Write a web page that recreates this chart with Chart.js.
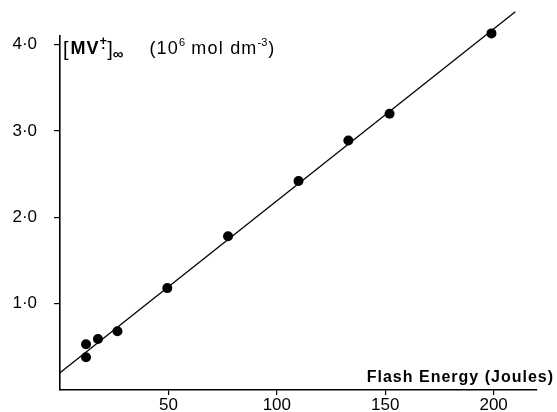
<!DOCTYPE html>
<html>
<head>
<meta charset="utf-8">
<script src="https://cdn.jsdelivr.net/npm/chart.js@4/dist/chart.umd.min.js"></script>
<style>
  html, body { margin: 0; padding: 0; background: #fff; }
  #wrap { width: 557px; height: 412px; }
  canvas { display: block; }
</style>
</head>
<body>
<div id="wrap"><canvas id="c" width="557" height="412"></canvas></div>
<script>
// ---- data ----
const flashEnergy = [12, 12, 17.5, 26.5, 49.5, 77.5, 110, 133, 152, 199];   // Joules
const mvConc      = [0.38, 0.53, 0.59, 0.68, 1.18, 1.78, 2.42, 2.89, 3.20, 4.13]; // 10^6 mol dm^-3
const fitEnergy   = [0, 210];
const fitConc     = [0.2, 4.38];
const xTickValues = [50, 100, 150, 200];
const yTickValues = [1, 2, 3, 4];
const xTitle = 'Flash Energy (Joules)';
const yTitleParts = ['[', 'MV', '+', ']', '∞', '(10', '6', ' mol dm', '-3', ')'];

const FONT = '"Liberation Sans", Arial, sans-serif';

const pointData = flashEnergy.map((x, i) => ({ x, y: mvConc[i] }));
const lineData = fitEnergy.map((x, i) => ({ x, y: fitConc[i] }));

const labelPlugin = {
  id: 'labels',
  afterDraw(chart) {
    const ctx = chart.ctx;
    ctx.save();
    ctx.fillStyle = '#000';
    ctx.textBaseline = 'alphabetic';
    ctx.textAlign = 'left';
    // y quantity label (top-left, inside plot)
    let x = 63;
    const base = 54;
    function put(text, size, weight, dy, ls) {
      ctx.font = weight + ' ' + size + 'px ' + FONT;
      ctx.letterSpacing = (ls || 0) + 'px';
      ctx.fillText(text, x, base + dy);
      const w = ctx.measureText(text).width;
      x += w;
      return w;
    }
    put(yTitleParts[0], 20, 'normal', 2, 0);
    x += 2;
    put(yTitleParts[1], 18, 'bold', 0, 1);
    const px = x;
    put(yTitleParts[2], 13, 'bold', -9, 0);
    ctx.font = 'bold 13px ' + FONT;
    ctx.letterSpacing = '0px';
    ctx.fillText('·', px + 2, base - 2);
    put(yTitleParts[3], 20, 'normal', 2, 0);
    put(yTitleParts[4], 15, 'bold', 5, 0);
    x += 26;
    put(yTitleParts[5], 18, 'normal', 0, 1.2);
    put(yTitleParts[6], 11, 'normal', -8, 0);
    put(yTitleParts[7], 18, 'normal', 0, 1.2);
    put(yTitleParts[8], 11, 'normal', -8, 0);
    x += 1;
    put(yTitleParts[9], 18, 'normal', 0, 0);

    // x axis title (right, above axis)
    ctx.font = 'bold 16px ' + FONT;
    ctx.letterSpacing = '1px';
    ctx.textAlign = 'right';
    ctx.fillText(xTitle, 554, 382);
    ctx.restore();
  }
};

function zeroPad(scale) {
  scale.paddingTop = 0; scale.paddingBottom = 0;
  scale.paddingLeft = 0; scale.paddingRight = 0;
}

new Chart(document.getElementById('c'), {
  type: 'scatter',
  data: {
    datasets: [
      {
        label: 'fit',
        data: lineData,
        showLine: true,
        borderColor: '#000',
        borderWidth: 1.3,
        pointRadius: 0,
        clip: false,
        order: 2
      },
      {
        label: 'data',
        data: pointData,
        showLine: false,
        pointRadius: 5,
        pointBackgroundColor: '#000',
        pointBorderColor: '#000',
        pointBorderWidth: 0,
        clip: false,
        order: 1
      }
    ]
  },
  options: {
    responsive: false,
    animation: false,
    devicePixelRatio: 1,
    layout: { padding: { top: 36, right: 20, left: 0, bottom: 0 } },
    plugins: { legend: { display: false }, tooltip: { enabled: false } },
    scales: {
      x: {
        type: 'linear',
        min: 0,
        max: 220,
        afterBuildTicks(scale) { scale.ticks = xTickValues.map(v => ({ value: v })); },
        afterFit(scale) { scale.height = 22; zeroPad(scale); },
        grid: { drawOnChartArea: false, drawTicks: true, tickLength: 5, color: '#000', lineWidth: 1.2 },
        border: { display: true, color: '#000', width: 1.6 },
        ticks: {
          color: '#000',
          padding: 0,
          maxRotation: 0,
          autoSkip: false,
          font: { family: FONT, size: 17 },
          callback: v => String(v)
        }
      },
      y: {
        type: 'linear',
        min: 0,
        max: 4.1,
        afterBuildTicks(scale) { scale.ticks = yTickValues.map(v => ({ value: v })); },
        afterFit(scale) { scale.width = 60; zeroPad(scale); },
        grid: { drawOnChartArea: false, drawTicks: true, tickLength: 6, color: '#000', lineWidth: 1.2 },
        border: { display: true, color: '#000', width: 1.6 },
        ticks: {
          color: '#000',
          padding: 17,
          font: { family: FONT, size: 17 },
          callback: v => v.toFixed(1).replace('.', '·')
        }
      }
    }
  },
  plugins: [labelPlugin]
});
</script>
</body>
</html>
